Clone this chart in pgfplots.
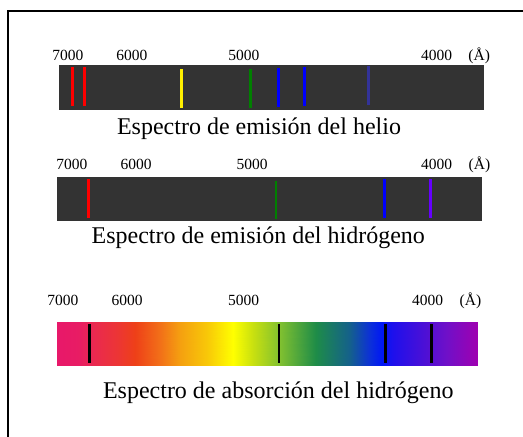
\documentclass[border=0pt]{standalone}
\usepackage{pgfplots}
\pgfplotsset{compat=1.18}
\usepackage{fontspec}
\setmainfont{Liberation Serif}
\definecolor{bar}{RGB}{51,51,51}
\definecolor{slate}{RGB}{51,51,153}
\definecolor{hviolet}{RGB}{102,0,255}
\definecolor{hgreen}{RGB}{0,128,0}
\definecolor{hyellow}{RGB}{255,240,0}
\pgfplotsset{
  panel/.style={
    scale only axis, width=523pt, xmin=0, xmax=523, ymin=0,
    enlargelimits=false, clip=false, anchor=center,
    axis line style={draw=none}, ytick=\empty, major tick length=0pt,
    xticklabel pos=right,
    xticklabel style={anchor=base, font=\fontsize{15.5}{18}\selectfont},
    /pgf/number format/assume math mode=true,
  },
  spec/.style={line width=2.6pt},
  colormap={spectrum}{
    rgb255(57pt)=(232,24,106) rgb255(78pt)=(232,28,100) rgb255(95pt)=(234,42,78)
    rgb255(117pt)=(236,53,53) rgb255(135pt)=(238,64,24) rgb255(160pt)=(242,112,24)
    rgb255(180pt)=(245,160,16) rgb255(207pt)=(248,200,8) rgb255(233pt)=(255,255,0)
    rgb255(253pt)=(200,224,16) rgb255(280pt)=(128,192,48) rgb255(316pt)=(30,140,72)
    rgb255(350pt)=(20,96,140) rgb255(370pt)=(12,48,216) rgb255(382pt)=(0,24,245)
    rgb255(393pt)=(30,16,236) rgb255(427pt)=(80,16,212) rgb255(447pt)=(112,16,200)
    rgb255(478pt)=(160,0,176)},
}
\begin{document}
\begin{tikzpicture}
\useasboundingbox (0,0) rectangle (523pt,437pt);
\draw[line width=2pt] (8.3pt,-5pt) -- (8.3pt,426pt) -- (530pt,426pt);

% Helium emission
\begin{axis}[panel, at={(261.5pt,349.5pt)}, height=45pt, ymax=45,
  xtick={67.8,131.8,243.8,436.5,479.2},
  xticklabels={7000,6000,5000,4000,(Å)},
  xticklabel style={yshift=4.3pt}]
\addplot[fill=bar, draw=none] coordinates {(59,0) (484,0) (484,45) (59,45)} -- cycle;
\addplot[spec, red] coordinates {(72.3,4) (72.3,43.3)};
\addplot[spec, red] coordinates {(84.3,4) (84.3,43.3)};
\addplot[spec, hyellow] coordinates {(181.7,2) (181.7,41)};
\addplot[spec, hgreen] coordinates {(250.3,2) (250.3,41)};
\addplot[spec, blue] coordinates {(278.3,2.7) (278.3,41.7)};
\addplot[spec, blue] coordinates {(304.7,4) (304.7,43)};
\addplot[spec, slate] coordinates {(368.3,4.7) (368.3,44)};
\end{axis}
\node[anchor=base, font=\fontsize{24}{28}\selectfont] at (259pt,302pt) {Espectro de emisión del helio};

% Hydrogen emission
\begin{axis}[panel, at={(261.5pt,238pt)}, height=43.4pt, ymax=43.4,
  xtick={71.8,136.2,252,436.5,479.5},
  xticklabels={7000,6000,5000,4000,(Å)},
  xticklabel style={yshift=8pt}]
\addplot[fill=bar, draw=none] coordinates {(57.3,0) (481.7,0) (481.7,43.4) (57.3,43.4)} -- cycle;
\addplot[spec, red] coordinates {(88.3,3) (88.3,41.4)};
\addplot[spec, hgreen] coordinates {(276,1.4) (276,40)};
\addplot[spec, blue] coordinates {(384.3,2.7) (384.3,41.4)};
\addplot[spec, hviolet] coordinates {(430.7,3) (430.7,41.7)};
\end{axis}
\node[anchor=base, font=\fontsize{24}{28}\selectfont] at (258.3pt,193pt) {Espectro de emisión del hidrógeno};

% Hydrogen absorption
\begin{axis}[panel, at={(261.5pt,93.35pt)}, height=42.7pt, ymax=42.7,
  xtick={62.8,127.2,243.5,427.5,470.5},
  xticklabels={7000,6000,5000,4000,(Å)},
  xticklabel style={yshift=16.3pt}]
\addplot[surf, shader=interp, point meta=x, point meta min=57.3, point meta max=477.7,
  colormap name=spectrum, mesh/cols=19] coordinates {
  (57.3,0) (78,0) (95,0) (117,0) (135,0) (160,0) (180,0) (207,0) (233,0) (253,0)
  (280,0) (316,0) (350,0) (370,0) (382,0) (393,0) (427,0) (447,0) (477.7,0)
  (57.3,42.7) (78,42.7) (95,42.7) (117,42.7) (135,42.7) (160,42.7) (180,42.7) (207,42.7) (233,42.7) (253,42.7)
  (280,42.7) (316,42.7) (350,42.7) (370,42.7) (382,42.7) (393,42.7) (427,42.7) (447,42.7) (477.7,42.7)
};
\addplot[spec, black] coordinates {(89.3,2.3) (89.3,41)};
\addplot[spec, black] coordinates {(279,2.3) (279,41.4)};
\addplot[spec, black] coordinates {(385.3,2.3) (385.3,41.4)};
\addplot[spec, black] coordinates {(431.7,2.3) (431.7,41)};
\end{axis}
\node[anchor=base, font=\fontsize{24}{28}\selectfont] at (278.3pt,38.7pt) {Espectro de absorción del hidrógeno};
\end{tikzpicture}
\end{document}
